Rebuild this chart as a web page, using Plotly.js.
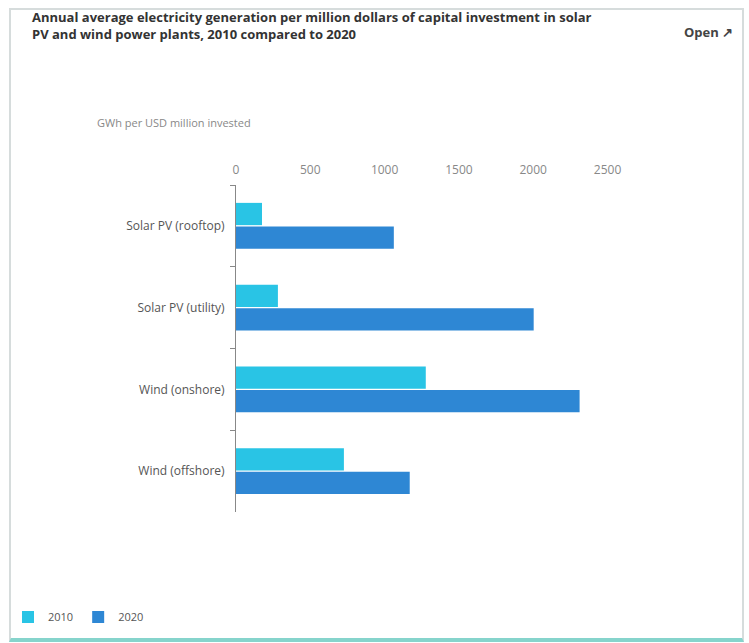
<!DOCTYPE html>
<html>
<head>
<meta charset="utf-8">
<script src="https://cdn.plot.ly/plotly-3.0.1.min.js"></script>
<style>
html,body{margin:0;padding:0;background:#fff;}
#wrap{position:relative;width:749px;height:643px;}
#chart{position:absolute;left:0;top:0;width:749px;height:643px;}
#frame{position:absolute;left:9px;top:8px;width:731px;height:628px;border:2px solid #d6dcdc;border-bottom:4px solid #86d4cc;pointer-events:none;}
</style>
</head>
<body>
<div id="wrap"><div id="chart"></div><div id="frame"></div></div>
<script>
const categories = ["Solar PV (rooftop)", "Solar PV (utility)", "Wind (onshore)", "Wind (offshore)"];
const seriesNames = ["2010", "2020"];
const values2010 = [175, 282, 1277, 726];
const values2020 = [1062, 2003, 2312, 1169];
const xTicks = [0, 500, 1000, 1500, 2000, 2500];
const titleText = "Annual average electricity generation per million dollars of capital investment in solar<br>PV and wind power plants, 2010 compared to 2020";
const axisLabel = "GWh per USD million invested";

const cyan = "#29c4e5";
const blue = "#2e87d4";

const traces = [
  {type:"bar", orientation:"h", name:seriesNames[0], y:categories, x:values2010, marker:{color:cyan}, hoverinfo:"x"},
  {type:"bar", orientation:"h", name:seriesNames[1], y:categories, x:values2020, marker:{color:blue}, hoverinfo:"x"}
];

const L = 236, R = 612, T = 185, B = 512, W = 749, H = 643;
const pw = R - L, ph = B - T;

const layout = {
  width: W, height: H,
  margin: {l: L, r: W - R, t: T, b: H - B, autoexpand: false},
  paper_bgcolor: "#fff", plot_bgcolor: "#fff",
  font: {family: "'Open Sans', Roboto, sans-serif", color: "#666", size: 12},
  title: {text: "<b>" + titleText + "</b>", xref: "container", yref: "container", x: 32 / W, xanchor: "left", y: 1 - 22 / H, yanchor: "top", font: {size: 13, color: "#333"}},
  barmode: "group",
  bargap: 0.42,
  bargroupgap: 0.06,
  showlegend: true,
  legend: {orientation: "h", x: (8 - L) / pw, xanchor: "left", y: (B - 617) / ph, yanchor: "middle", font: {size: 11, color: "#555"}, traceorder: "normal", itemwidth: 30},
  xaxis: {side: "top", range: [0, 2530], tickvals: xTicks, ticktext: xTicks.map(String), showgrid: false, zeroline: false, showline: false, ticks: "", tickfont: {size: 12, color: "#888"}, ticklabelstandoff: 8},
  yaxis: {autorange: "reversed", type: "category", showline: true, linecolor: "#888", linewidth: 1, ticks: "outside", tickson: "boundaries", ticklen: 5, tickcolor: "#888", showgrid: false, tickfont: {size: 12, color: "#555"}, ticklabelstandoff: 8},
  annotations: [
    {text: axisLabel, xref: "paper", yref: "paper", x: (95 - L) / pw, y: (B - 122) / ph, xanchor: "left", yanchor: "middle", showarrow: false, font: {size: 11, color: "#888"}},
    {text: "<b>Open ↗</b>", xref: "paper", yref: "paper", x: (735 - L) / pw, y: (B - 32) / ph, xanchor: "right", yanchor: "middle", showarrow: false, font: {size: 13, color: "#444"}}
  ]
};

Plotly.newPlot("chart", traces, layout, {displayModeBar: false, staticPlot: true});
</script>
</body>
</html>
